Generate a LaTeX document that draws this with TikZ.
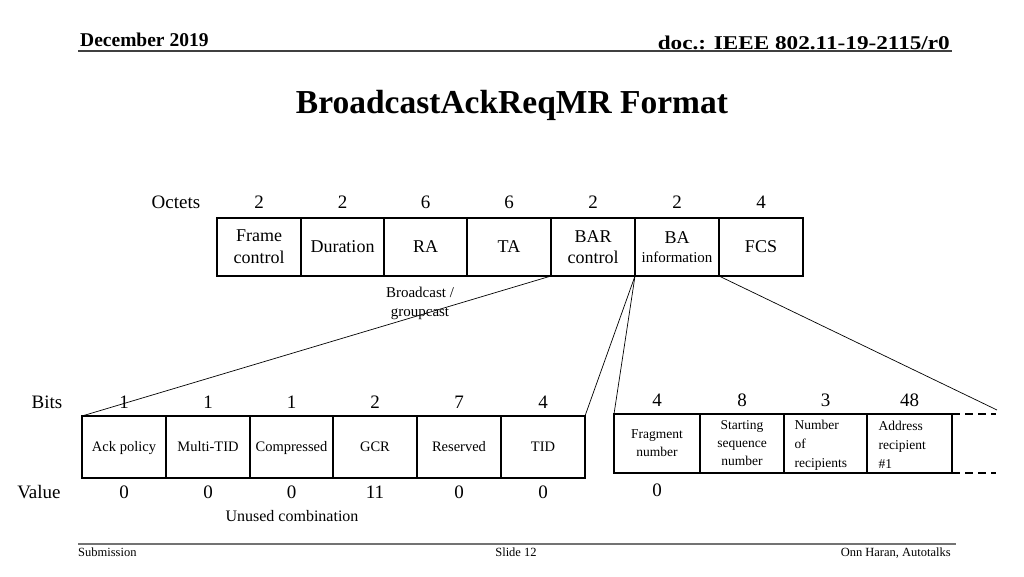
\documentclass[tikz,border=0pt]{standalone}
\usepackage{fontspec}
\setmainfont{Liberation Serif}
\begin{document}
\begin{tikzpicture}[x=1pt,y=-1pt,
  topbox/.style={draw,line width=1.6pt,inner sep=0pt,outer sep=0pt,minimum height=58pt,align=center,font=\fontsize{18}{19}\selectfont},
  bitbox/.style={draw,line width=1.6pt,inner sep=0pt,outer sep=0pt,minimum height=62pt,minimum width=84pt,text height=11pt,text depth=2pt,align=center,font=\fontsize{14.5}{16}\selectfont},
  fragbox/.style={draw,line width=1.6pt,inner sep=0pt,outer sep=0pt,minimum height=59pt,align=center,font=\fontsize{13.5}{18}\selectfont},
  lbl/.style={font=\fontsize{19}{20}\selectfont},
  conn/.style={line width=0.7pt},
  hdr/.style={font=\bfseries\fontsize{19.5}{20}\selectfont},
  ftr/.style={font=\fontsize{12.5}{13}\selectfont,anchor=base}
]
\useasboundingbox (0,0) rectangle (1024,576);
% header
\node[hdr,anchor=base west,inner sep=0pt] (date) at (80,46) {December 2019};
\node[hdr,anchor=base east,inner sep=0pt] (doc) at (950,49) {\scalebox{1.19}[1]{doc.: IEEE 802.11-19-2115/r0}};
\draw[line width=1.2pt,black!75] (78,51) -- (952,51);
\node[font=\bfseries\fontsize{33.5}{35}\selectfont] (title) at (512,105) {BroadcastAckReqMR Format};
% octets row
\node[lbl] (oct) at (176,202) {Octets};
\foreach \x/\v [count=\i] in {259/2,342.5/2,425.5/6,509/6,593/2,677/2,761/4}
  \node[lbl] (o\i) at (\x,202) {\v};
\node[topbox,minimum width=84pt] (fc) at (259,247) {Frame\\[3pt]control};
\node[topbox,minimum width=83pt] (dur) at (342.5,247) {Duration};
\node[topbox,minimum width=83pt] (ra) at (425.5,247) {RA};
\node[topbox,minimum width=84pt] (ta) at (509,247) {TA};
\node[topbox,minimum width=84pt] (bar) at (593,247) {BAR\\[2pt]control};
\node[topbox,minimum width=84pt] (ba) at (677,247) {BA\\[0pt]{\fontsize{15}{16}\selectfont information}};
\node[topbox,minimum width=84pt] (fcs) at (761,247) {FCS};
\node[align=center,font=\fontsize{15}{19}\selectfont] (bg) at (420,303) {Broadcast /\\groupcast};
% bits row
\node[lbl] (bits) at (47,402) {Bits};
\node[lbl] (val) at (39,492) {Value};
\foreach \x/\b/\v [count=\i] in {124/1/0,208/1/0,291.5/1/0,375/2/11,459/7/0,543/4/0}{
  \node[lbl] (b\i) at (\x,402) {\b};
  \node[lbl] (v\i) at (\x,492) {\v};
}
\node[bitbox] (ack) at (124,447) {Ack policy};
\node[bitbox] (mtid) at (208,447) {Multi-TID};
\node[bitbox] (comp) at (291.5,447) {Compressed};
\node[bitbox] (gcr) at (375,447) {GCR};
\node[bitbox] (res) at (459,447) {Reserved};
\node[bitbox] (tid) at (543,447) {TID};
\node[font=\fontsize{16}{18}\selectfont] (unused) at (292,516) {Unused combination};
% right group
\foreach \x/\b [count=\i] in {657/4,742/8,825.5/3,909.5/48}
  \node[lbl] (r\i) at (\x,400) {\b};
\node[lbl] (rv) at (657,490) {0};
\node[fragbox,minimum width=86pt] (frag) at (657,443.5) {Fragment\\number};
\node[fragbox,minimum width=84pt] (ssn) at (742,443.5) {Starting\\sequence\\number};
\node[fragbox,minimum width=83pt] (nrec) at (825.5,443.5) {};
\node[fragbox,minimum width=85pt] (addr) at (909.5,443.5) {};
\node[anchor=west,align=left,font=\fontsize{13.5}{19}\selectfont] (nrect) at (791,445) {Number\\of\\recipients};
\node[anchor=west,align=left,font=\fontsize{13.5}{19}\selectfont] (addrt) at (875,445) {Address\\recipient\\\#1};
\draw[line width=1.5pt,dash pattern=on 8pt off 5pt] (addr.north east) -- ++(44,0);
\draw[line width=1.5pt,dash pattern=on 8pt off 5pt] (addr.south east) -- ++(44,0);
\coordinate (cont) at (997,410);
% connectors
\draw[conn] (bar.south west) -- (ack.north west);
\draw[conn] (ba.south west) -- (tid.north east);
\draw[conn] (ba.south west) -- (frag.north west);
\draw[conn] (ba.south east) -- (cont);
% footer
\draw[line width=1.6pt,black!55] (78,544) -- (956,544);
\node[ftr,anchor=base west,inner sep=0pt] (sub) at (78,556) {Submission};
\node[ftr,inner sep=0pt] (slide) at (516,556) {Slide 12};
\node[ftr,anchor=base east,inner sep=0pt] (auth) at (951,556) {Onn Haran, Autotalks};
\end{tikzpicture}
\end{document}
